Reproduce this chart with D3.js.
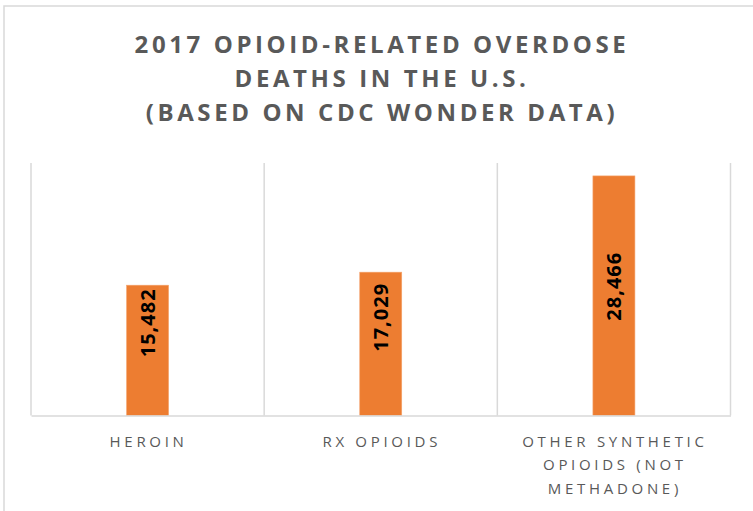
<!DOCTYPE html>
<html>
<head>
<meta charset="utf-8">
<script src="https://cdn.jsdelivr.net/npm/d3@7"></script>
<style>
  html, body { margin: 0; padding: 0; background: #fff; }
  svg { display: block; }
</style>
</head>
<body>
<svg id="chart" width="753" height="511"></svg>
<script>
// Chart content
const titleLines = ["2017 OPIOID-RELATED OVERDOSE", "DEATHS IN THE U.S.", "(BASED ON CDC WONDER DATA)"];
const categories = ["HEROIN", "RX OPIOIDS", "OTHER SYNTHETIC OPIOIDS (NOT METHADONE)"];
const categoryLines = [["HEROIN"], ["RX OPIOIDS"], ["OTHER SYNTHETIC", "OPIOIDS (NOT", "METHADONE)"]];
const deaths = [15482, 17029, 28466];
const yDomain = [0, 30000];

// Layout
const plot = { left: 31, right: 730.5, top: 163, bottom: 415.5 };
const barWidth = 42;
// vertical nudge of each value label (px, relative to the bar's middle)
const labelNudge = [-27.5, -26.5, -9.5];

const svg = d3.select("#chart");
const grid = "#d9d9d9";

// outer frame of the chart object
svg.append("path")
  .attr("d", "M4,511 V6 H760")
  .attr("fill", "none")
  .attr("stroke", grid)
  .attr("stroke-width", 1.5);

const x = d3.scaleBand().domain(categories).range([plot.left, plot.right]).paddingInner(0).paddingOuter(0);
const y = d3.scaleLinear().domain(yDomain).range([plot.bottom, plot.top]);

// vertical category gridlines at band edges
const edges = categories.map(c => x(c)).concat([x(categories[categories.length - 1]) + x.bandwidth()]);
svg.append("g").selectAll("line").data(edges).join("line")
  .attr("x1", d => d).attr("x2", d => d)
  .attr("y1", y(yDomain[1])).attr("y2", y(0))
  .attr("stroke", grid).attr("stroke-width", 1.5);

// bars
const data = categories.map((c, i) => ({ c, v: deaths[i], i }));
svg.append("g").selectAll("rect").data(data).join("rect")
  .attr("x", d => x(d.c) + (x.bandwidth() - barWidth) / 2)
  .attr("width", barWidth)
  .attr("y", d => y(d.v))
  .attr("height", d => y(0) - y(d.v))
  .attr("fill", "#ED7D31")
  .attr("stroke", "#F4A46E")
  .attr("stroke-width", 0.6);

// category axis
const xAxis = svg.append("g")
  .attr("transform", `translate(0,${plot.bottom})`)
  .call(d3.axisBottom(x).tickSize(0).tickPadding(0));
xAxis.select(".domain").attr("stroke", grid).attr("stroke-width", 1.5);
xAxis.selectAll(".tick text").each(function(d, i) {
  const t = d3.select(this);
  t.text(null)
    .attr("y", 0).attr("dy", null)
    .attr("fill", "#595959")
    .attr("font-family", "'Open Sans', sans-serif")
    .attr("font-size", 15)
    .attr("letter-spacing", 3.7)
    .attr("text-anchor", "middle");
  categoryLines[i].forEach((line, k) => {
    t.append("tspan").attr("x", 1).attr("y", 31 + k * 23.5).text(line);
  });
});

// value labels, rotated inside the bars
svg.append("g").selectAll("text").data(data).join("text")
  .attr("transform", d => {
    const cx = x(d.c) + x.bandwidth() / 2;
    const cy = (y(d.v) + y(0)) / 2 + labelNudge[d.i];
    return `translate(${cx},${cy}) rotate(-90)`;
  })
  .attr("text-anchor", "middle")
  .attr("dominant-baseline", "central")
  .attr("font-family", "'Open Sans', sans-serif")
  .attr("font-weight", 700)
  .attr("font-size", 20)
  .attr("letter-spacing", 1)
  .attr("fill", "#000")
  .text(d => d3.format(",")(d.v));

// title
const titleY = [53, 87, 121];
svg.append("g").selectAll("text").data(titleLines).join("text")
  .attr("x", 382)
  .attr("y", (d, i) => titleY[i])
  .attr("text-anchor", "middle")
  .attr("font-family", "'Open Sans', sans-serif")
  .attr("font-weight", 700)
  .attr("font-size", 24)
  .attr("letter-spacing", 3.6)
  .attr("fill", "#595959")
  .text(d => d);
</script>
</body>
</html>
